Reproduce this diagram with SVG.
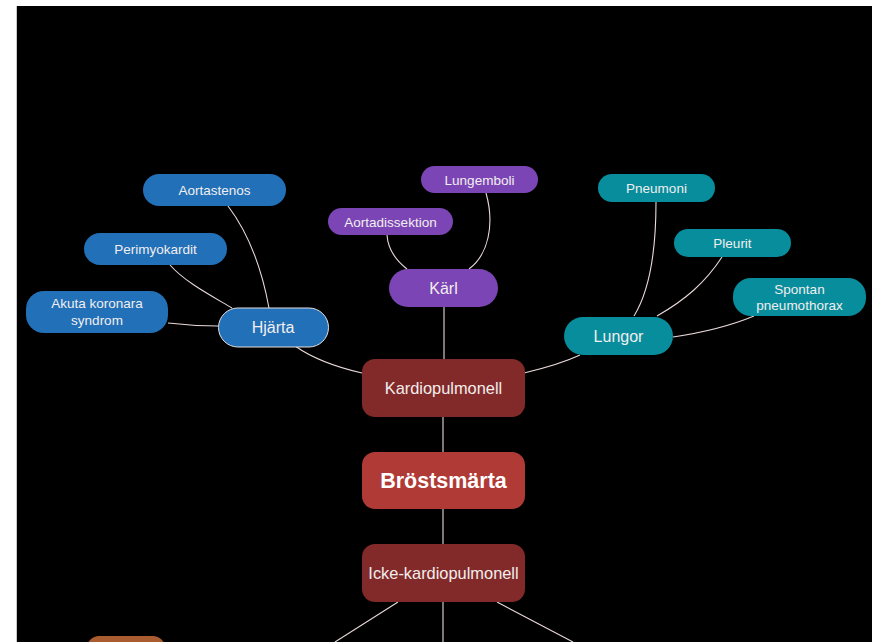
<svg xmlns="http://www.w3.org/2000/svg" width="872" height="642" viewBox="0 0 872 642">
  <style>
    .lbl { font-family: "Liberation Sans", Arial, sans-serif; fill: #f2eeee; text-anchor: middle; }
    .s { font-size: 13.5px; }
    .m { font-size: 16px; }
    .k { font-size: 16.4px; }
    .b { font-size: 21.5px; font-weight: bold; fill: #ffffff; }
    .blue { fill: #2270b8; }
    .purple { fill: #7b45b5; }
    .teal { fill: #078d9c; }
    .dark { fill: #822a29; }
    .red { fill: #b03a36; }
    .orange { fill: #a95c30; }
    #connectors path { fill: none; stroke: #eadada; stroke-width: 1.1; }
  </style>

  <rect x="0" y="0" width="872" height="642" fill="#ffffff"/>
  <rect x="16" y="6" width="1" height="636" fill="#c8c8c8"/>
  <rect x="17" y="6" width="855" height="636" fill="#000000"/>

  <g id="connectors">
    <!-- heart branch -->
    <path d="M228,206 C250,235 262,270 269,308"/>
    <path d="M170,265 C185,282 210,295 232,308"/>
    <path d="M168,323 C185,325 200,326 218,326"/>
    <path d="M295,346 C315,360 340,368 362,373"/>
    <!-- vessel branch -->
    <path d="M387,235 C388,250 398,262 407,269"/>
    <path d="M486,193 C495,225 488,255 469,269"/>
    <path d="M444,307 L444,359"/>
    <!-- lung branch -->
    <path d="M656,202 C656,250 650,290 634,316"/>
    <path d="M722,257 C705,283 685,300 657,316"/>
    <path d="M754,316 C730,326 700,333 673,337"/>
    <path d="M524,373 C545,368 565,362 580,355"/>
    <!-- trunk -->
    <path d="M443,417 L443,452"/>
    <path d="M443,509 L443,544"/>
    <!-- lower branch -->
    <path d="M398,602 L335,642"/>
    <path d="M443,602 L443,642"/>
    <path d="M497,602 L573,642"/>
  </g>

  <g id="aortastenos">
    <rect class="blue" x="143" y="174" width="143" height="32" rx="16"/>
    <text class="lbl s" x="214.5" y="195">Aortastenos</text>
  </g>
  <g id="perimyokardit">
    <rect class="blue" x="84" y="233" width="143" height="32" rx="16"/>
    <text class="lbl s" x="155.5" y="254">Perimyokardit</text>
  </g>
  <g id="akuta-koronara-syndrom">
    <rect class="blue" x="26" y="291" width="142" height="42" rx="18"/>
    <text class="lbl s" x="97" y="308">Akuta koronara</text>
    <text class="lbl s" x="97" y="325">syndrom</text>
  </g>
  <g id="hjarta">
    <rect class="blue" x="218.5" y="308" width="110" height="39" rx="19.5" stroke="#e4dede" stroke-width="1"/>
    <text class="lbl m" x="273" y="333">Hjärta</text>
  </g>

  <g id="aortadissektion">
    <rect class="purple" x="328" y="208" width="125" height="27" rx="13.5"/>
    <text class="lbl s" x="390.5" y="226.5">Aortadissektion</text>
  </g>
  <g id="lungemboli">
    <rect class="purple" x="421" y="166" width="117" height="27" rx="13.5"/>
    <text class="lbl s" x="479.5" y="184.5">Lungemboli</text>
  </g>
  <g id="karl">
    <rect class="purple" x="389" y="269" width="109" height="38" rx="19"/>
    <text class="lbl m" x="443.5" y="294">Kärl</text>
  </g>

  <g id="pneumoni">
    <rect class="teal" x="598" y="174" width="117" height="28" rx="14"/>
    <text class="lbl s" x="656.5" y="192.5">Pneumoni</text>
  </g>
  <g id="pleurit">
    <rect class="teal" x="674" y="229" width="117" height="28" rx="14"/>
    <text class="lbl s" x="732.5" y="247.5">Pleurit</text>
  </g>
  <g id="spontan-pneumothorax">
    <rect class="teal" x="733" y="278" width="133" height="38" rx="18"/>
    <text class="lbl s" x="799.5" y="294">Spontan</text>
    <text class="lbl s" x="799.5" y="310">pneumothorax</text>
  </g>
  <g id="lungor">
    <rect class="teal" x="564" y="317" width="109" height="38" rx="19"/>
    <text class="lbl m" x="618.5" y="342">Lungor</text>
  </g>

  <g id="kardiopulmonell">
    <rect class="dark" x="362" y="359" width="163" height="58" rx="13"/>
    <text class="lbl k" x="443.5" y="393.5">Kardiopulmonell</text>
  </g>
  <g id="brostsmarta">
    <rect class="red" x="362" y="452" width="163" height="57" rx="13"/>
    <text class="lbl b" x="443.5" y="488">Bröstsmärta</text>
  </g>
  <g id="icke-kardiopulmonell">
    <rect class="dark" x="362" y="544" width="163" height="58" rx="13"/>
    <text class="lbl k" x="443.5" y="578.5">Icke-kardiopulmonell</text>
  </g>

  <g id="lower-left-node">
    <rect class="orange" x="87" y="636" width="78" height="30" rx="12"/>
  </g>
</svg>
